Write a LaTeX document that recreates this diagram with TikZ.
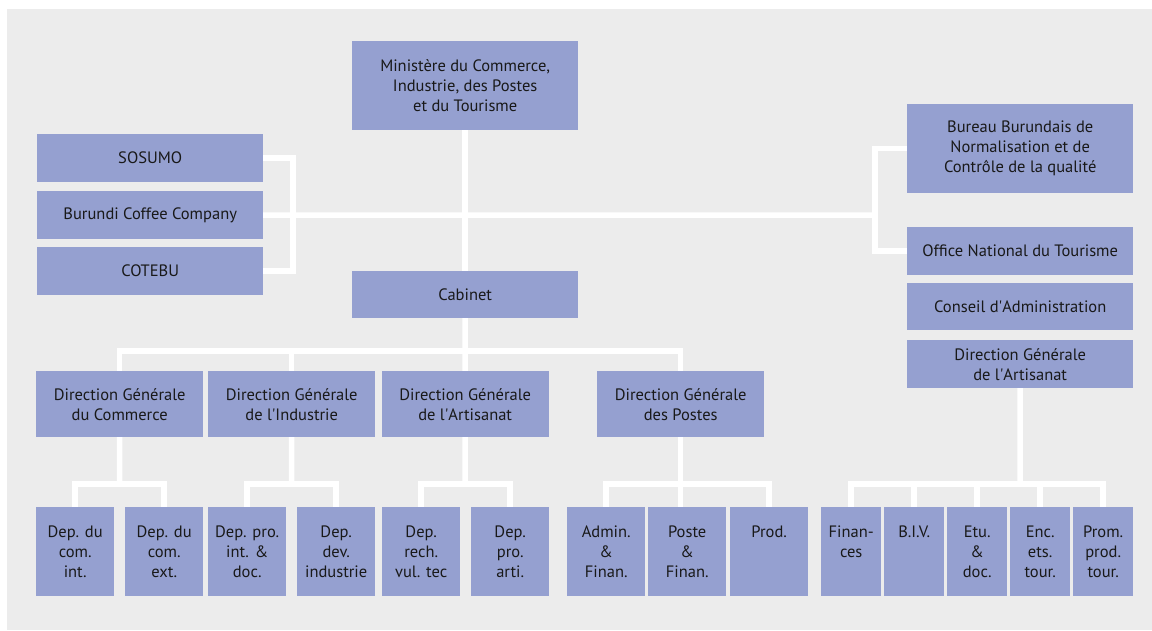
\documentclass[tikz,border=0pt]{standalone}
\usepackage{fontspec}
\setmainfont{PT Sans}
\usetikzlibrary{backgrounds}
\definecolor{boxblue}{RGB}{149,160,208}
\definecolor{bggrey}{RGB}{236,236,236}
\newcommand{\q}{\textquotesingle}
\tikzset{
  box/.style={fill=boxblue, anchor=north west, inner sep=0pt, align=center,
    text=black!90, font=\fontsize{16.5}{20}\selectfont},
  wide/.style={box, minimum width=226},
  dir/.style={box, minimum width=167, minimum height=66},
  dep/.style={box, minimum width=78, minimum height=89},
  small/.style={box, minimum width=60, minimum height=89},
  link/.style={draw=white, line width=5.5pt, line cap=rect, line join=miter}
}

\begin{document}
\begin{tikzpicture}[x=1pt, y=-1pt]
\useasboundingbox (0,0) rectangle (1152,630);

%%% boites

% ministere
\node[wide, minimum height=89] (min) at (352,41) {Ministère du Commerce,\\ Industrie, des Postes\\ et du Tourisme};
\node[wide, minimum height=47] (cab) at (352,271) {Cabinet};

% gauche
\node[wide, minimum height=48] (sosumo) at (37,134) {SOSUMO};
\node[wide, minimum height=48] (bcc) at (37,191) {Burundi Coffee Company};
\node[wide, minimum height=48] (cotebu) at (37,247) {COTEBU};

% droite
\node[wide, minimum height=89] (bbn) at (907,104) {Bureau Burundais de\\ Normalisation et de\\ Contrôle de la qualité};
\node[wide, minimum height=48] (ont) at (907,227) {Office National du Tourisme};
\node[wide, minimum height=47] (cad) at (907,283) {Conseil d\q Administration};
\node[wide, minimum height=48] (dgtour) at (907,340) {Direction Générale\\ de l\q Artisanat};

% directions
\node[dir] (dgcom) at (36,371) {Direction Générale\\ du Commerce};
\node[dir] (dgind) at (208,371) {Direction Générale\\ de l\q Industrie};
\node[dir] (dgart) at (381.5,371) {Direction Générale\\ de l\q Artisanat};
\node[dir] (dgpos) at (597,371) {Direction Générale\\ des Postes};

% departements
\node[dep] (dcomint) at (36,507) {Dep. du\\ com.\\ int.};
\node[dep] (dcomext) at (125,507) {Dep. du\\ com.\\ ext.};
\node[dep] (dindpro) at (208,507) {Dep. pro.\\ int. \&\\ doc.};
\node[dep] (dinddev) at (297,507) {Dep.\\ dev.\\ industrie};
\node[dep] (dartrech) at (382,507) {Dep.\\ rech.\\ vul. tec};
\node[dep] (dartpro) at (471,507) {Dep.\\ pro.\\ arti.};
\node[dep] (dposadm) at (567,507) {Admin.\\ \&\\ Finan.};
\node[dep] (dposfin) at (648,507) {Poste\\ \&\\ Finan.};
\node[dep] (dposprod) at (730,507) {Prod.\\ ~\\ ~};
\node[small] (tfin) at (821,507) {Finan-\\ ces\\ ~};
\node[small] (tbiv) at (884,507) {B.I.V.\\ ~\\ ~};
\node[small] (tetu) at (947,507) {Etu.\\ \&\\ doc.};
\node[small] (tenc) at (1010,507) {Enc.\\ ets.\\ tour.};
\node[small] (tprom) at (1073,507) {Prom.\\ prod.\\ tour.};

% points de jonction
\coordinate (lb) at (293,215);
\coordinate (rb) at (875,215);
\coordinate (bus) at (465,351);
\coordinate (bcom) at (119.5,484);
\coordinate (bind) at (291.5,484);
\coordinate (bart) at (465,484);
\coordinate (bpos) at (680.5,484);
\coordinate (btour) at (1020,484);

%%% liens

\begin{pgfonlayer}{background}
\fill[bggrey] (7,9) rectangle (1152,630);

% haut
\draw[link] (min) -- (cab);
\draw[link] (bcc) -- (rb);
\draw[link] (sosumo.east) -| (lb) |- (cotebu.east);
\draw[link] (bbn.west) -| (rb) |- (ont.west);

% cabinet
\draw[link] (cab) -- (bus);
\draw[link] (dgcom) |- (bus) -| (dgpos);
\draw[link] (bus) -| (dgind);
\draw[link] (bus) -- (dgart);

% departements
\draw[link] (dgcom) -- (bcom);
\draw[link] (dcomint) |- (bcom) -| (dcomext);
\draw[link] (dgind) -- (bind);
\draw[link] (dindpro) |- (bind) -| (dinddev);
\draw[link] (dgart) -- (bart);
\draw[link] (dartrech) |- (bart) -| (dartpro);
\draw[link] (dgpos) -- (dgpos.south |- dposfin.north);
\draw[link] (dposadm) |- (bpos) -| (dposprod);

% tourisme
\draw[link] (dgtour) -- (btour);
\draw[link] (tfin) |- (btour) -| (tprom);
\foreach \t in {tbiv,tetu,tenc}
  \draw[link] (\t) -- (\t |- btour);
\end{pgfonlayer}

\end{tikzpicture}
\end{document}
